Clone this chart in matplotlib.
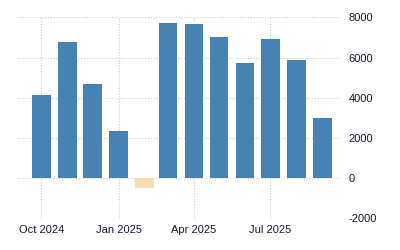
import matplotlib
matplotlib.use("Agg")
import matplotlib.pyplot as plt
import datetime as dt

months = ["2024-10", "2024-11", "2024-12", "2025-01", "2025-02", "2025-03",
          "2025-04", "2025-05", "2025-06", "2025-07", "2025-08", "2025-09"]
values = [4130, 6770, 4680, 2340, -480, 7710, 7660, 7015, 5720, 6915, 5870, 2985]
tick_months = ["2024-10", "2025-01", "2025-04", "2025-07"]
tick_labels = ["Oct 2024", "Jan 2025", "Apr 2025", "Jul 2025"]
y_ticks = [-2000, 0, 2000, 4000, 6000, 8000]

dates = [dt.datetime.strptime(m, "%Y-%m") for m in months]
colors = ["#4682b4" if v >= 0 else "#f5deb3" for v in values]

plt.rcParams["font.family"] = ["Liberation Sans", "DejaVu Sans"]

fig = plt.figure(figsize=(4, 2.5), dpi=100)
ax = fig.add_axes([0.0425, 0.126, 0.8075, 0.805])

ax.bar(dates, values, width=22, color=colors, zorder=3)

ax.set_xlim(dt.datetime(2024, 9, 2), dt.datetime(2025, 9, 22))
ax.set_ylim(-2000, 8000)
ax.set_yticks(y_ticks)
ax.set_yticklabels([str(v) for v in y_ticks])
ax.set_xticks([dt.datetime.strptime(m, "%Y-%m") for m in tick_months])
ax.set_xticklabels(tick_labels)

ax.yaxis.tick_right()
ax.tick_params(axis="y", length=0, pad=6, labelsize=8, colors="#1a1a33")
ax.tick_params(axis="x", length=0, pad=5, labelsize=8, colors="#1a1a33")

ax.grid(True, color="#cccccc", linestyle=(0, (1, 1.5)), linewidth=0.8, zorder=0)
for s in ax.spines.values():
    s.set_visible(False)

fig.savefig("out.png", dpi=100)
